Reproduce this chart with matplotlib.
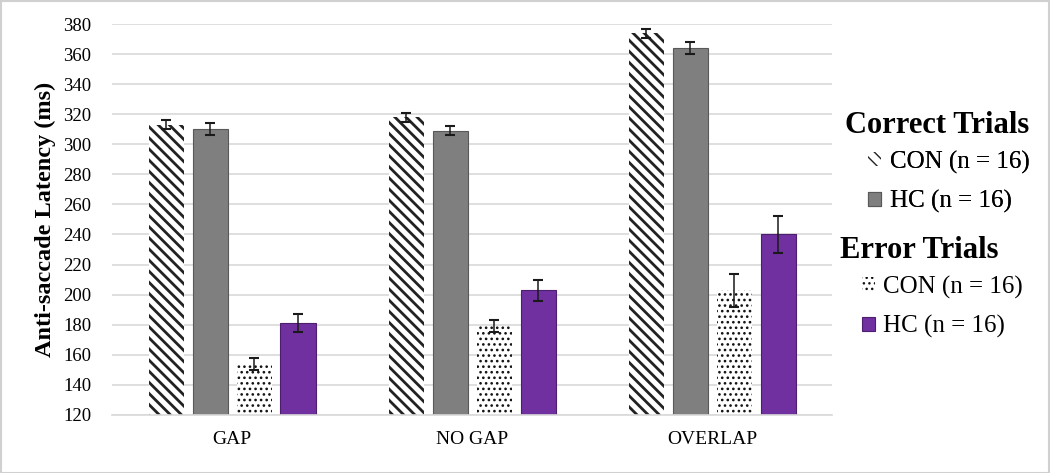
import matplotlib.pyplot as plt
import numpy as np
from matplotlib.patches import Patch

plt.rcParams['font.family'] = ['Liberation Serif', 'DejaVu Serif']

conditions = ['GAP', 'NO GAP', 'OVERLAP']
series_labels = ['CON (n = 16)', 'HC (n = 16)', 'CON (n = 16)', 'HC (n = 16)']
group_titles = ['Correct Trials', 'Error Trials']
correct_con = [313, 318, 374]
correct_hc = [310, 309, 364]
error_con = [154, 179, 203]
error_hc = [181, 203, 240]
correct_con_err = [3, 3, 3]
correct_hc_err = [4, 3, 4]
error_con_err = [4, 4, 11]
error_hc_err = [6, 7, 12]

values = [correct_con, correct_hc, error_con, error_hc]
errs = [correct_con_err, correct_hc_err, error_con_err, error_hc_err]
styles = [
    dict(facecolor='white', edgecolor='#222222', hatch='\\\\\\', linewidth=0),
    dict(facecolor='#7f7f7f', edgecolor='#595959', linewidth=0.8),
    dict(facecolor='white', edgecolor='#111111', hatch='...', linewidth=0),
    dict(facecolor='#7030a0', edgecolor='#4b1e6e', linewidth=0.8),
]
hatch_lw = [2.0, 1.0, 1.1, 1.0]

fig = plt.figure(figsize=(10.5, 4.73), dpi=100)
ax = fig.add_axes([0.1067, 0.123, 0.686, 0.826])

x = np.arange(len(conditions))
width = 0.146
step = 0.183
for i in range(4):
    pos = x + (i - 1.5) * step
    with plt.rc_context({'hatch.linewidth': hatch_lw[i]}):
        ax.bar(pos, np.array(values[i]) - 120, width, bottom=120, zorder=2, **styles[i])
    ax.errorbar(pos, values[i], yerr=errs[i], fmt='none', ecolor='#1a1a1a',
                elinewidth=1.1, capsize=3.5, capthick=1.5, zorder=3)

ax.set_ylim(120, 380)
ax.set_xlim(-0.5, 2.5)
ax.set_yticks(np.arange(120, 381, 20))
ax.yaxis.grid(True, color='#d9d9d9', linewidth=1.2, zorder=0)
ax.set_axisbelow(True)
for s in ['top', 'right', 'left']:
    ax.spines[s].set_visible(False)
ax.spines['bottom'].set_color('#d9d9d9')
ax.spines['bottom'].set_linewidth(1.2)
ax.tick_params(axis='both', length=0)
ax.tick_params(axis='y', labelsize=13.5, pad=15)
ax.tick_params(axis='x', labelsize=14, pad=12)
ax.set_xticks(x)
ax.set_xticklabels(conditions)
ax.set_ylabel('Anti-saccade Latency (ms)', fontsize=17.5, fontweight='bold')
ax.yaxis.set_label_coords(-0.078, 0.5)

# legend: bold group titles + entries
fig.text(0.805, 0.735, group_titles[0], fontsize=22, fontweight='bold', va='center')
fig.text(0.800, 0.471, group_titles[1], fontsize=22, fontweight='bold', va='center')

legend_kw = dict(loc='upper left', frameon=False, fontsize=18, handlelength=0.5,
                 handleheight=0.5, handletextpad=0.35, labelspacing=0.66,
                 borderpad=0, borderaxespad=0)
handles = []
for i in range(4):
    with plt.rc_context({'hatch.linewidth': hatch_lw[i]}):
        handles.append(Patch(**styles[i]))
leg1 = fig.legend(handles[:2], series_labels[:2], bbox_to_anchor=(0.827, 0.682), **legend_kw)
leg2 = fig.legend(handles[2:], series_labels[2:], bbox_to_anchor=(0.821, 0.4176), **legend_kw)
fig.add_artist(leg1)

fig.patches.append(plt.Rectangle((0.001, 0.001), 0.998, 0.997, transform=fig.transFigure,
                                 fill=False, edgecolor='#d0d0d0', linewidth=1.5))

fig.savefig('out.png', dpi=100)
